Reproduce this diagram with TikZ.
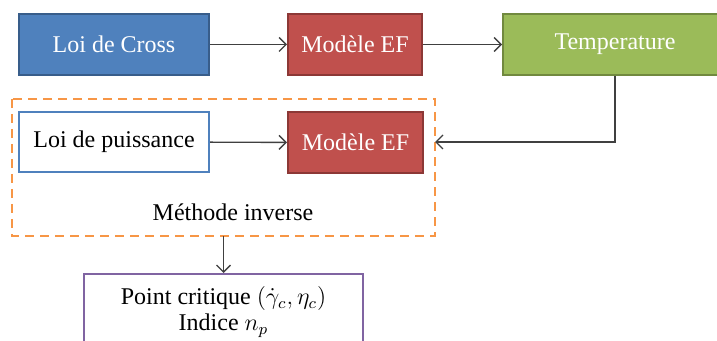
\documentclass[tikz,border=0pt]{standalone}
\usepackage{amsmath}
\usepackage{amssymb}
\usepackage{fontspec}
\setmainfont{Liberation Serif}
\usepackage{tikz}
\usetikzlibrary{arrows.meta}

\definecolor{bleu}{HTML}{4F81BD}
\definecolor{bleufonce}{HTML}{385D8A}
\definecolor{rouge}{HTML}{C0504D}
\definecolor{rougefonce}{HTML}{8C3836}
\definecolor{vert}{HTML}{9BBB59}
\definecolor{vertfonce}{HTML}{71893F}
\definecolor{orange}{HTML}{F79646}
\definecolor{violet}{HTML}{8064A2}
\definecolor{trait}{HTML}{404040}

\tikzset{
  bloc/.style={rectangle, inner sep=0pt, line width=1pt, font=\fontsize{12}{14}\selectfont},
  bleubox/.style={bloc, fill=bleu, draw=bleufonce, text=white},
  rougebox/.style={bloc, fill=rouge, draw=rougefonce, text=white},
  vertbox/.style={bloc, fill=vert, draw=vertfonce, text=white},
  fleche/.style={-{Straight Barb[length=3.5pt,width=7pt]}, draw=trait, line width=0.7pt}
}

\begin{document}
\begin{tikzpicture}[x=0.5pt,y=-0.5pt]
\useasboundingbox (0,0) rectangle (717,341);

\node[bleubox, minimum width=95pt, minimum height=30.5pt] (cross) at (114,44.5) {Loi de Cross};
\node[rougebox, minimum width=67pt, minimum height=30.5pt] (ef1) at (355,44.5) {Modèle EF};
\node[vertbox, minimum width=112pt, minimum height=30.5pt] (temp) at (615,44.5) {Temperature};

\draw[orange, line width=1.2pt, dash pattern=on 4.5pt off 3pt] (12,99) rectangle (435,236);
\coordinate (inv) at (223.5,236);
\coordinate (invd) at (435,142);
\node[bloc, draw=bleu, fill=white, minimum width=95pt, minimum height=30pt] (puiss) at (114,142) {Loi de puissance};
\node[rougebox, minimum width=67.5pt, minimum height=30.5pt] (ef2) at (355.5,142.5) {Modèle EF};
\node[font=\fontsize{12}{14}\selectfont] (meth) at (233,212) {Méthode inverse};

\node[bloc, draw=violet, fill=white, minimum width=139.5pt, minimum height=38pt, align=center]
  (pc) at (223.5,312) {Point critique $(\dot{\gamma}_c,\eta_c)$\\[-1pt]Indice $n_p$};

\draw[fleche] (cross) -- (ef1);
\draw[fleche] (ef1) -- (temp);
\draw[fleche] (puiss) -- (ef2);
\draw[fleche] (temp.south) |- (invd);
\draw[fleche] (inv) -- (pc.north);
\end{tikzpicture}
\end{document}
